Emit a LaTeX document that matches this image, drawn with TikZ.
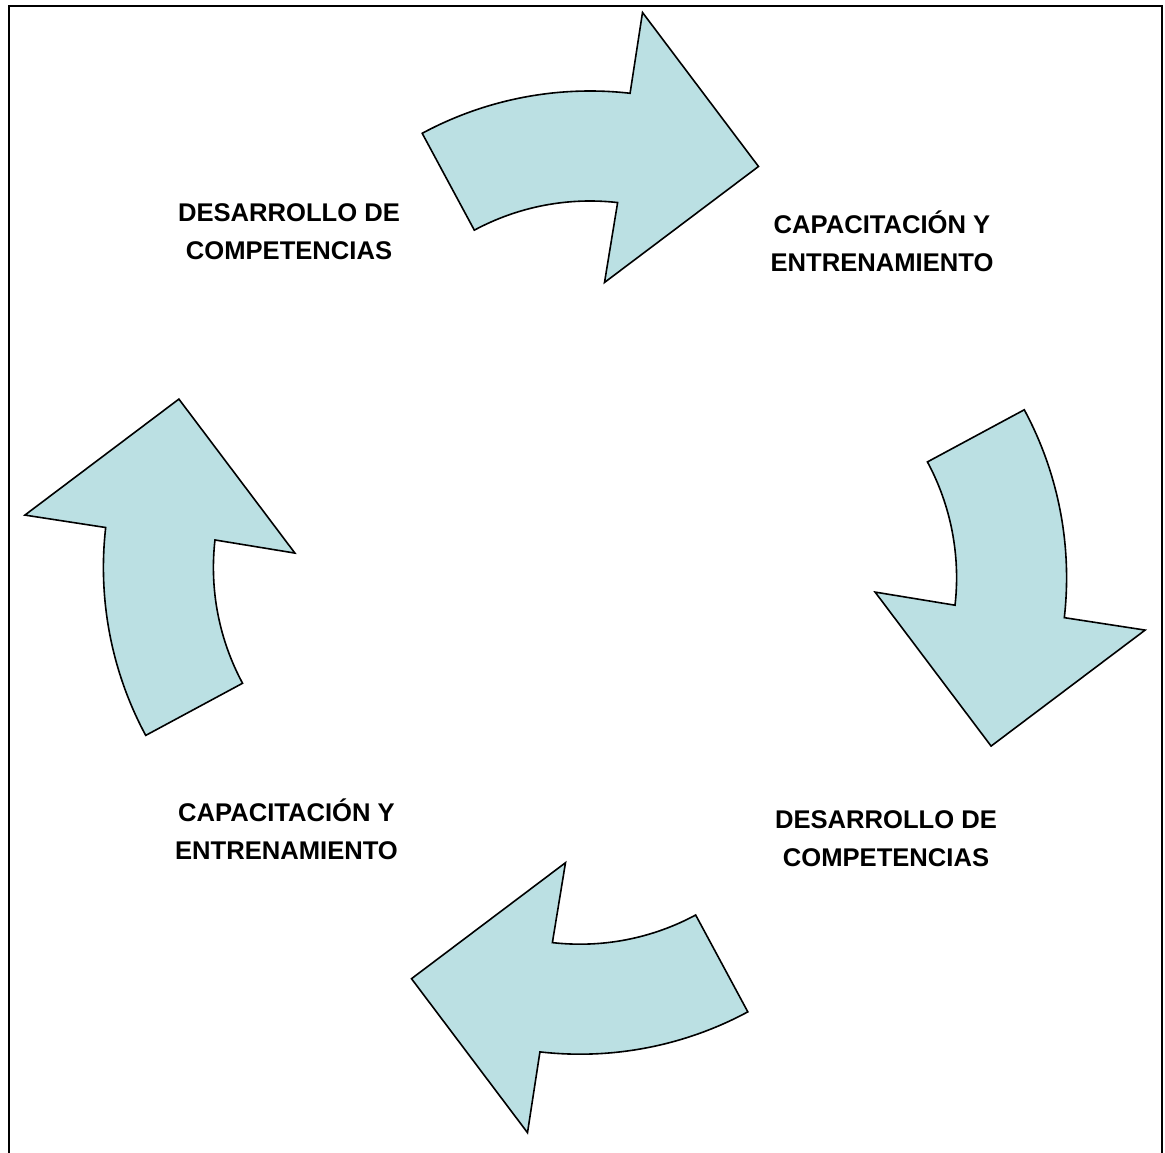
\documentclass[tikz,border=0pt]{standalone}
\usepackage{fontspec}
\setmainfont{Liberation Sans}
\definecolor{arrowfill}{RGB}{187,224,227}
\tikzset{
  cyclearrow/.style={fill=arrowfill, draw=black, line width=1.6pt, line join=miter},
  frameline/.style={draw=black, line width=2.4pt},
  lbl/.style={anchor=base, inner sep=0pt, font=\fontsize{25.6}{30}\selectfont\bfseries}
}
\begin{document}
\begin{tikzpicture}[x=1pt,y=1pt]
\useasboundingbox (0,0) rectangle (1165,1153);
% frame (open at the bottom)
\draw[frameline] (9,-5) -- (9,1147) -- (1162,1147) -- (1162,-5);
% four curved arrows, rotational copies of the top one
\foreach \r in {0,90,180,270}{
  \begin{scope}[rotate around={\r:(585,580.4)}]
    \draw[cyclearrow] ([shift={(590,708)}]118.3:354)
      arc[start angle=118.3, end angle=83.5, radius=354]
      -- (642.5,1140.5) -- (758.5,986.5) -- (604.5,870.5)
      -- ([shift={(590,708)}]83.5:244)
      arc[start angle=83.5, end angle=118.3, radius=244] -- cycle;
  \end{scope}
}
% labels
\node[lbl] (tl1) at (289,931.3) {DESARROLLO DE};
\node[lbl] (tl2) at (289,893) {COMPETENCIAS};
\node[lbl] (tr1) at (882,919.7) {CAPACITACIÓN Y};
\node[lbl] (tr2) at (882,881.3) {ENTRENAMIENTO};
\node[lbl] (bl1) at (286.5,331.3) {CAPACITACIÓN Y};
\node[lbl] (bl2) at (286.5,293) {ENTRENAMIENTO};
\node[lbl] (br1) at (886,324.7) {DESARROLLO DE};
\node[lbl] (br2) at (886,286.3) {COMPETENCIAS};
\end{tikzpicture}
\end{document}
